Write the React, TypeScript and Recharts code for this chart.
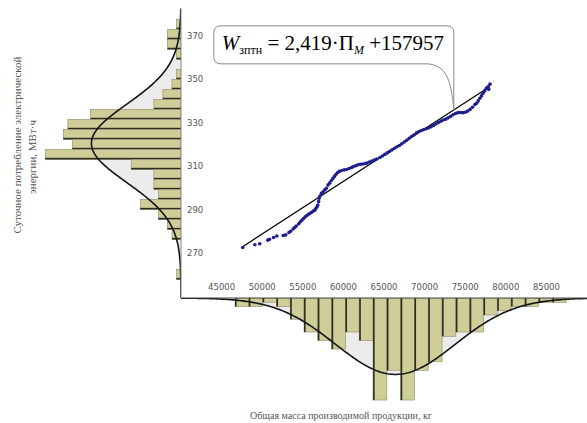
import React from 'react';
import {
  ComposedChart,
  Scatter,
  XAxis,
  YAxis,
  ReferenceLine,
  ReferenceDot,
  ReferenceArea,
  Area,
  Line,
} from 'recharts';

// Daily observations: total mass of output (kg) and daily electric energy use (MWh)
const massKg = [
  47600, 49100, 49700, 50700, 50900, 51400, 51800, 52600, 52900, 53300,
  53500, 53800, 54000, 54200, 54500, 54700, 54900, 55100, 55300, 55500,
  55700, 55900, 56100, 56300, 56500, 56600, 56750, 56850, 56950, 57000,
  57100, 57300, 57500, 57700, 57900, 58100, 58300, 58500, 58700, 58900,
  59100, 59300, 59500, 59800, 60100, 60400, 60700, 61000, 61200, 61500,
  61800, 62100, 62400, 62700, 62900, 63200, 63500, 63800, 64100, 64500,
  64800, 65100, 65400, 65700, 66000, 66300, 66600, 66900, 67200, 67500,
  67800, 68100, 68400, 68700, 69000, 69300, 69600, 69900, 70200, 70500,
  70800, 71100, 71400, 71700, 72000, 72300, 72600, 72900, 73200, 73500,
  73800, 74100, 74400, 74700, 75000, 75300, 75600, 75900, 76200, 76400,
  76600, 76800, 77000, 77200, 77400, 77600, 77800, 77900, 78050,
];
const energyMWh = [
  272.7, 274.0, 274.4, 276.1, 276.5, 277.3, 278.0, 278.2, 278.5, 279.6,
  280.2, 281.2, 281.9, 282.6, 283.6, 284.5, 285.3, 286.0, 286.8, 287.4,
  288.0, 288.4, 288.9, 289.5, 289.9, 290.6, 291.4, 292.2, 293.8, 295.3,
  296.4, 297.6, 298.3, 299.2, 299.9, 301.4, 302.3, 303.4, 304.4, 305.4,
  306.4, 307.2, 307.7, 308.1, 308.4, 308.6, 309.0, 309.5, 309.8, 310.3,
  310.7, 311.0, 311.1, 311.3, 311.5, 312.0, 312.4, 312.9, 313.4, 314.1,
  314.8, 315.5, 316.2, 316.9, 317.6, 318.3, 319.0, 319.6, 320.4, 321.2,
  322.0, 322.9, 323.7, 324.5, 325.4, 326.0, 326.5, 326.9, 327.3, 327.7,
  328.2, 328.8, 329.5, 330.2, 330.8, 331.3, 331.7, 332.3, 333.0, 333.7,
  334.3, 334.7, 334.8, 334.7, 334.9, 335.4, 336.2, 337.2, 338.4, 339.0,
  340.1, 341.3, 342.4, 343.6, 344.7, 345.9, 346.6, 345.4, 347.8,
];

// Histogram of daily energy use (left margin)
const energyBinCenters = [
  375.3, 370.7, 366.1, 361.5, 356.9, 352.3, 347.7, 343.1, 338.5, 333.9,
  329.3, 324.7, 320.1, 315.5, 310.9, 306.3, 301.7, 297.1, 292.5, 287.9,
  283.3, 278.7, 274.1, 269.5, 264.9, 260.3,
];
const energyBinCounts = [
  1, 3, 3, 1, 0, 1, 2, 4, 6, 20, 25, 26, 24, 30, 11, 6, 6, 5, 9, 5, 3, 2, 0, 0, 0, 1,
];

// Histogram of output mass (bottom margin)
const massBinCenters = [
  47500, 49200, 50900, 52600, 54300, 56000, 57700, 59400, 61100, 62800,
  64500, 66200, 67900, 69600, 71300, 73000, 74700, 76400, 78100, 79800,
  81500, 83200, 84900, 86600,
];
const massBinCounts = [
  2, 2, 1, 2, 5, 8, 10, 12, 8, 10, 24, 17, 24, 17, 15, 9, 8, 8, 4, 3, 2, 2, 1, 1,
];

const massTicks = [45000, 50000, 55000, 60000, 65000, 70000, 75000, 80000, 85000];
const energyTicks = [270, 290, 310, 330, 350, 370];

// Regression W = 2.419·П + 157957 (kWh vs kg)
const SLOPE = 2.419;
const INTERCEPT = 157957;
const CALLOUT_MASS = 73600;

const MASS_DOMAIN: [number, number] = [40000, 90000];
const ENERGY_DOMAIN: [number, number] = [249.5, 382.8];

const BAR_FILL = '#cfcd98';
const BAR_EDGE = '#8d8b68';
const SHADE = '#ececec';
const TICK_STYLE = { fontSize: 8.5, fill: '#555', fontFamily: 'DejaVu Sans' };

const fitMWh = (m: number) => (SLOPE * m + INTERCEPT) / 1000;

const points = massKg.map((m, i) => ({ m, e: energyMWh[i] }));
const mMin = Math.min(...massKg);
const mMax = Math.max(...massKg);

// Expected normal frequencies for a histogram (mean and sd taken from the bins)
function fittedNormal(centers: number[], counts: number[], from: number, to: number, step: number) {
  const n = counts.reduce((a, b) => a + b, 0);
  const mean = centers.reduce((s, c, i) => s + c * counts[i], 0) / n;
  const variance = centers.reduce((s, c, i) => s + counts[i] * (c - mean) ** 2, 0) / (n - 1);
  const sd = Math.sqrt(variance);
  const width = Math.abs(centers[1] - centers[0]);
  const out: { v: number; f: number }[] = [];
  for (let v = from; v <= to + 1e-9; v += step) {
    const z = (v - mean) / sd;
    out.push({ v, f: ((n * width) / (sd * Math.sqrt(2 * Math.PI))) * Math.exp(-0.5 * z * z) });
  }
  return out;
}

const energyCurve = fittedNormal(energyBinCenters, energyBinCounts, ENERGY_DOMAIN[0], ENERGY_DOMAIN[1], 0.5);
const massCurve = fittedNormal(massBinCenters, massBinCounts, MASS_DOMAIN[0], MASS_DOMAIN[1], 200);
const energyBinWidth = Math.abs(energyBinCenters[1] - energyBinCenters[0]);
const massBinWidth = Math.abs(massBinCenters[1] - massBinCenters[0]);

const LeftBar = (p: any) => {
  const { x, y, width, height } = p;
  return (
    <g>
      <rect x={x} y={y} width={width} height={height} fill={BAR_FILL} stroke={BAR_EDGE} strokeWidth={0.6} />
      <rect x={x} y={y + height - 1.6} width={width} height={1.6} fill="#2e2d24" />
    </g>
  );
};

const BottomBar = (p: any) => {
  const { x, y, width, height } = p;
  return (
    <g>
      <rect x={x} y={y} width={width} height={height} fill={BAR_FILL} stroke={BAR_EDGE} strokeWidth={0.6} />
      <rect x={x} y={y} width={1.6} height={height} fill="#2e2d24" />
    </g>
  );
};

const Dot = (p: any) => <circle cx={p.cx} cy={p.cy} r={1.8} fill="#1d1d8e" />;

// Rounded callout whose tail ends on the regression line
const Callout = (p: any) => {
  const { cx, cy } = p;
  const L = cx - 240;
  const R = cx;
  const T = cy - 84;
  const B = cy - 46;
  const r = 7;
  const d = [
    `M${L + r},${T}`,
    `H${R - r}`,
    `Q${R},${T} ${R},${T + r}`,
    `V${cy}`,
    `C${R - 3},${B + 14} ${R - 8},${B + 2} ${R - 26},${B}`,
    `H${L + r}`,
    `Q${L},${B} ${L},${B - r}`,
    `V${T + r}`,
    `Q${L},${T} ${L + r},${T}`,
    'Z',
  ].join(' ');
  const coef = SLOPE.toFixed(3).replace('.', ',');
  return (
    <g>
      <path d={d} fill="#fff" stroke="#8a8a8a" strokeWidth={1} />
      <text x={L + 8} y={T + 24} fontFamily="Liberation Serif" fontSize={21} fill="#000">
        <tspan fontStyle="italic">W</tspan>
        <tspan fontSize={12} dy={4}>зптн</tspan>
        <tspan dy={-4}>{` = ${coef}·П`}</tspan>
        <tspan fontSize={12} fontStyle="italic" dy={4}>М</tspan>
        <tspan dy={-4}>{` +${INTERCEPT}`}</tspan>
      </text>
    </g>
  );
};

export default function App() {
  return (
    <div style={{ position: 'absolute', left: 0, top: 0, width: 587, height: 423, background: '#fff', overflow: 'hidden' }}>
      {/* energy histogram, bars growing leftwards */}
      <div style={{ position: 'absolute', left: 0, top: 0 }}>
        <ComposedChart
          layout="vertical"
          width={181}
          height={300}
          data={energyCurve}
          margin={{ top: 8, right: 0, bottom: 2, left: 0 }}
        >
          <XAxis type="number" domain={[0, 40]} reversed hide allowDataOverflow />
          <YAxis type="number" dataKey="v" domain={ENERGY_DOMAIN} reversed hide allowDataOverflow />
          <Area dataKey="f" type="linear" fill={SHADE} fillOpacity={1} stroke="none" isAnimationActive={false} />
          {energyBinCenters.map((c, i) =>
            energyBinCounts[i] > 0 ? (
              <ReferenceArea
                key={`e${i}`}
                x1={0}
                x2={energyBinCounts[i]}
                y1={c - energyBinWidth / 2}
                y2={c + energyBinWidth / 2}
                shape={LeftBar}
                ifOverflow="visible"
              />
            ) : null
          )}
          <Line dataKey="f" type="linear" stroke="#151515" strokeWidth={1.6} dot={false} isAnimationActive={false} />
        </ComposedChart>
      </div>

      {/* mass histogram, bars hanging downwards */}
      <div style={{ position: 'absolute', left: 0, top: 298 }}>
        <ComposedChart width={587} height={125} data={massCurve} margin={{ top: 0, right: 0, bottom: 0, left: 181 }}>
          <XAxis type="number" dataKey="v" domain={MASS_DOMAIN} hide allowDataOverflow />
          <YAxis type="number" domain={[0, 29.4]} reversed hide allowDataOverflow />
          <Area dataKey="f" type="linear" fill={SHADE} fillOpacity={1} stroke="none" isAnimationActive={false} />
          {massBinCenters.map((c, i) =>
            massBinCounts[i] > 0 ? (
              <ReferenceArea
                key={`m${i}`}
                x1={c - massBinWidth / 2}
                x2={c + massBinWidth / 2}
                y1={0}
                y2={massBinCounts[i]}
                shape={BottomBar}
                ifOverflow="visible"
              />
            ) : null
          )}
          <Line dataKey="f" type="linear" stroke="#151515" strokeWidth={1.6} dot={false} isAnimationActive={false} />
        </ComposedChart>
      </div>

      {/* scatter with regression line */}
      <div style={{ position: 'absolute', left: 0, top: 0 }}>
        <ComposedChart width={587} height={300} margin={{ top: 8, right: 0, bottom: 2, left: 181 }}>
          <XAxis
            type="number"
            dataKey="m"
            domain={MASS_DOMAIN}
            ticks={massTicks}
            allowDataOverflow
            mirror
            tickLine={false}
            axisLine={{ stroke: '#444', strokeWidth: 1.2 }}
            tick={TICK_STYLE}
          />
          <YAxis
            type="number"
            dataKey="e"
            domain={ENERGY_DOMAIN}
            ticks={energyTicks}
            allowDataOverflow
            mirror
            tickSize={4}
            tickLine={false}
            axisLine={{ stroke: '#888', strokeWidth: 1 }}
            tick={TICK_STYLE}
          />
          <ReferenceLine
            segment={[
              { x: mMin, y: fitMWh(mMin) },
              { x: mMax, y: fitMWh(mMax) },
            ]}
            stroke="#000"
            strokeWidth={1.2}
          />
          <Scatter data={points} dataKey="e" shape={Dot} isAnimationActive={false} />
          <ReferenceDot x={CALLOUT_MASS} y={fitMWh(CALLOUT_MASS)} shape={Callout} />
        </ComposedChart>
      </div>

      {/* axis titles */}
      <svg width={587} height={423} style={{ position: 'absolute', left: 0, top: 0, pointerEvents: 'none' }}>
        <text
          transform="translate(17,145) rotate(-90)"
          textAnchor="middle"
          dominantBaseline="central"
          fontFamily="Liberation Serif"
          fontSize={11}
          fill="#555"
        >
          Суточное потребление электрической
        </text>
        <text
          transform="translate(32,157) rotate(-90)"
          textAnchor="middle"
          dominantBaseline="central"
          fontFamily="Liberation Serif"
          fontSize={11}
          fill="#555"
        >
          энергии, МВт·ч
        </text>
        <text x={341} y={419} textAnchor="middle" fontFamily="Liberation Serif" fontSize={10} fill="#555">
          Общая масса производимой продукции, кг
        </text>
      </svg>
    </div>
  );
}
